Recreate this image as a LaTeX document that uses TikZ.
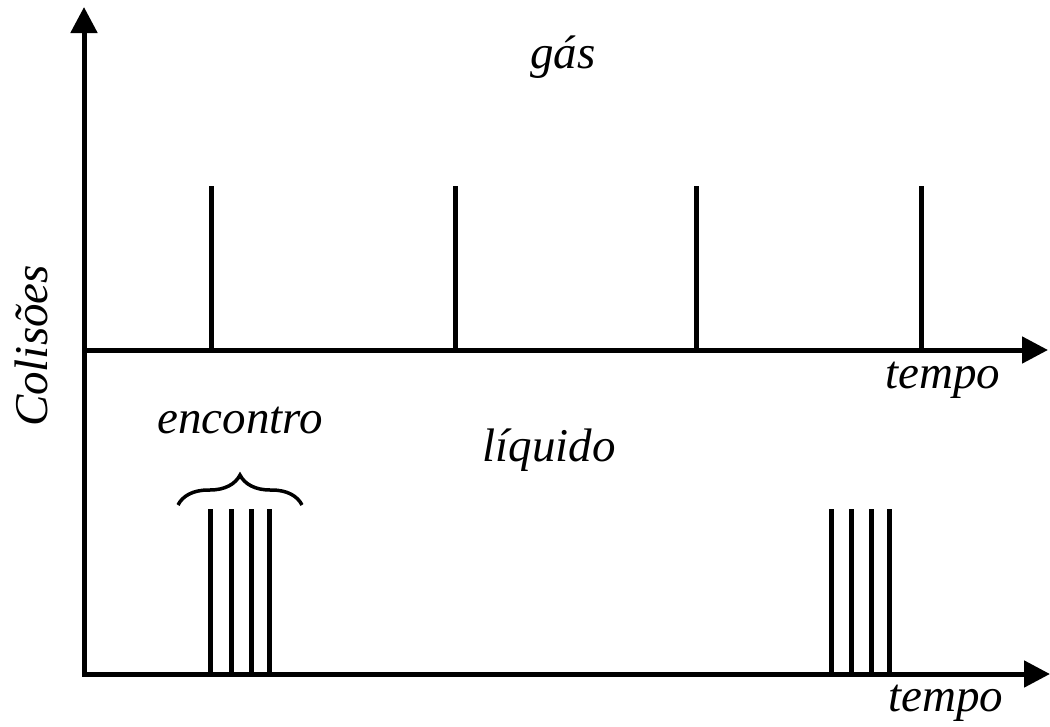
\documentclass[tikz,border=0pt]{standalone}
\usepackage{fontspec}
\setmainfont{Liberation Serif}
\usetikzlibrary{arrows.meta,decorations.pathreplacing}
\begin{document}
\begin{tikzpicture}[x=1pt,y=-1pt,
  axis/.style={line width=5pt,-{Triangle[length=26pt,width=26pt]}},
  spike/.style={line width=5pt},
  lbl/.style={font=\fontsize{47}{50}\selectfont\itshape,inner sep=0pt}]
\useasboundingbox (0,0) rectangle (1050,726);
% axes
\coordinate (o) at (84,674);
\coordinate (ytip) at (84,7);
\coordinate (u0) at (84,350);
\coordinate (utip) at (1048,350);
\coordinate (ltip) at (1050,674);
\draw[axis] (84,676.5) -- (ytip);
\draw[axis] (u0) -- (utip);
\draw[axis] (o) -- (ltip);
% upper spikes
\foreach \x in {211,455,696,921} {
  \coordinate (s\x) at (\x,186);
  \coordinate (b\x) at (\x,350);
  \draw[spike] (s\x) -- (b\x);
}
% lower clusters
\foreach \x in {210,231,251,269,831,851,871,889} {
  \coordinate (c\x) at (\x,509);
  \coordinate (d\x) at (\x,674);
  \draw[spike] (c\x) -- (d\x);
}
% brace
\coordinate (br1) at (178,505);
\coordinate (br2) at (302,505);
\draw[line width=3.5pt,decorate,decoration={brace,amplitude=30pt,raise=0pt}] (br1) -- (br2);
% labels
\node[lbl] (gas) at (563,57) {gás};
\node[lbl] (t1) at (943,380) {tempo};
\node[lbl] (enc) at (240,420) {encontro};
\node[lbl] (liq) at (549,450) {líquido};
\node[lbl] (t2) at (946,703) {tempo};
\node[lbl,rotate=90] (col) at (31,346) {Colisões};
\end{tikzpicture}
\end{document}
